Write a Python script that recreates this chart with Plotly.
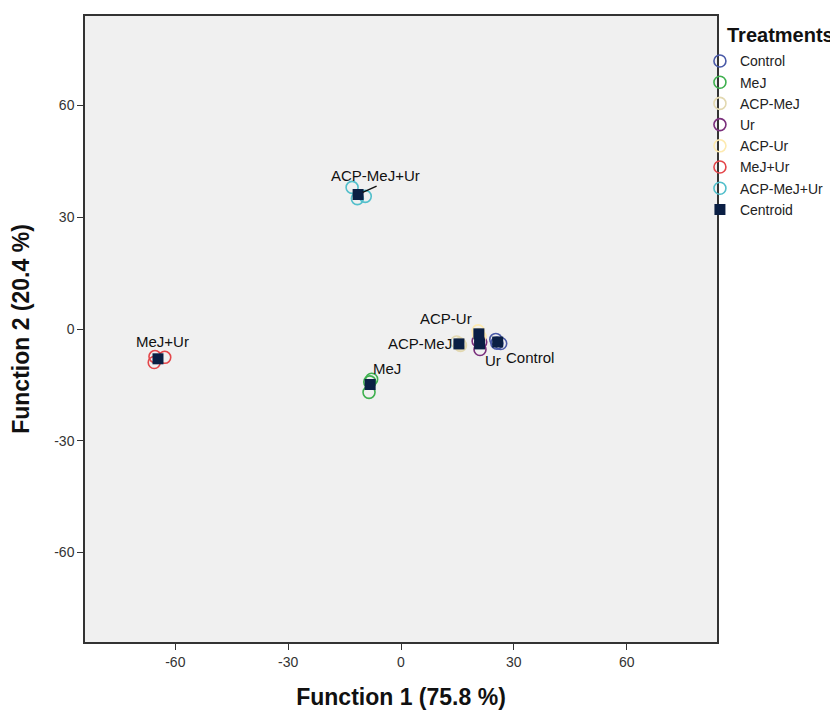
import plotly.graph_objects as go

groups = ["Control", "MeJ", "ACP-MeJ", "Ur", "ACP-Ur", "MeJ+Ur", "ACP-MeJ+Ur"]
colors = ["#4a5aa8", "#3fb04f", "#e2d8b0", "#7a2f7c", "#fdeab0", "#e4474b", "#52bfcb"]

obs_x = {
    "Control": [25.2, 26.5, 25.5],
    "MeJ": [-8.5, -7.8, -8.3],
    "ACP-MeJ": [14.8, 15.8, 15.6],
    "Ur": [21.0, 20.5, 21.2],
    "ACP-Ur": [20.5, 21.0, 20.6],
    "MeJ+Ur": [-65.6, -62.8, -65.4],
    "ACP-MeJ+Ur": [-13.0, -9.5, -11.6],
}
obs_y = {
    "Control": [-2.8, -3.9, -3.8],
    "MeJ": [-17.0, -13.5, -14.2],
    "ACP-MeJ": [-3.5, -4.4, -4.0],
    "Ur": [-5.5, -3.2, -3.5],
    "ACP-Ur": [-0.5, -2.0, -1.5],
    "MeJ+Ur": [-9.0, -7.6, -7.4],
    "ACP-MeJ+Ur": [38.0, 35.6, 35.0],
}

centroid_x = [25.7, -8.2, 15.4, 20.9, 20.7, -64.6, -11.4]
centroid_y = [-3.5, -14.9, -4.0, -4.0, -1.3, -8.0, 36.1]

tick_vals = [-60, -30, 0, 30, 60]
tick_text = ["-60", "-30", "0", "30", "60"]

# label offsets in pixels (styling)
label_shift = {
    "Control": (32, -15),
    "MeJ": (17, 16),
    "ACP-MeJ": (-39, 0),
    "Ur": (13, -17),
    "ACP-Ur": (-33, 15),
    "MeJ+Ur": (5, 17),
    "ACP-MeJ+Ur": (17, 19),
}
leader_groups = ["ACP-MeJ+Ur"]

FONT = "Liberation Sans, Arial"

fig = go.Figure()
for g, c in zip(groups, colors):
    fig.add_trace(go.Scatter(
        x=obs_x[g], y=obs_y[g], mode="markers", name=g,
        marker=dict(symbol="circle-open", size=12, color=c, line=dict(width=1.6, color=c)),
    ))
fig.add_trace(go.Scatter(
    x=centroid_x, y=centroid_y, mode="markers", name="Centroid",
    marker=dict(symbol="square", size=11, color="#0a1f44", line=dict(width=0)),
))

anns = []
for g, cx, cy in zip(groups, centroid_x, centroid_y):
    dx, dy = label_shift[g]
    anns.append(dict(x=cx, y=cy, text=g, showarrow=False, xshift=dx, yshift=dy,
                     font=dict(size=15, color="#111111", family=FONT)))
    if g in leader_groups:
        anns.append(dict(x=cx, y=cy, text="", showarrow=True, arrowhead=0, arrowwidth=1.5,
                         arrowcolor="#111111", ax=20, ay=-9, standoff=5))

anns.append(dict(xref="paper", yref="paper", x=1.013, y=0.970, xanchor="left", yanchor="middle",
                 text="<b>Treatments</b>", showarrow=False,
                 font=dict(size=20, color="#111111", family=FONT)))

fig.update_layout(
    width=830, height=704,
    margin=dict(l=77, r=121, t=6, b=69),
    paper_bgcolor="white",
    plot_bgcolor="#f0f0f0",
    font=dict(family=FONT, size=14, color="#222222"),
    annotations=anns,
    showlegend=True,
    legend=dict(
        x=0.973, xanchor="left", y=0.953, yanchor="top",
        font=dict(size=14, color="#222222", family=FONT),
        bgcolor="rgba(0,0,0,0)", tracegroupgap=0, itemwidth=30,
    ),
    xaxis=dict(
        range=[-84, 84], tickvals=tick_vals, ticktext=tick_text, showgrid=False, zeroline=False,
        ticks="outside", ticklen=6, tickcolor="#333333", showline=True, linecolor="#333333",
        linewidth=1.5, mirror=True,
        title=dict(text="<b>Function 1 (75.8 %)</b>", font=dict(size=23, color="#111111"), standoff=20),
        tickfont=dict(size=14, color="#333333"),
    ),
    yaxis=dict(
        range=[-84, 84], tickvals=tick_vals, ticktext=tick_text, showgrid=False, zeroline=False,
        ticks="outside", ticklen=6, tickcolor="#333333", showline=True, linecolor="#333333",
        linewidth=1.5, mirror=True,
        title=dict(text="<b>Function 2 (20.4 %)</b>", font=dict(size=23, color="#111111"), standoff=18),
        tickfont=dict(size=14, color="#333333"),
    ),
)

fig.write_html("out.html")
